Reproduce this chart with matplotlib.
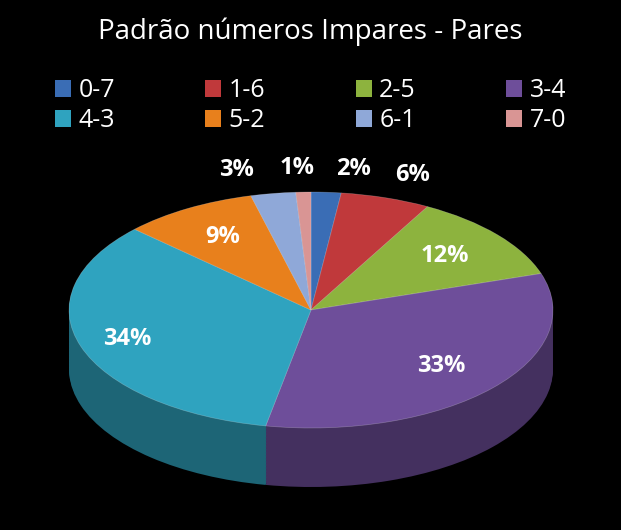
import matplotlib
matplotlib.use("Agg")
import matplotlib.pyplot as plt
import numpy as np
import matplotlib.colors as mc
from matplotlib.patches import Patch

labels = ["0-7", "1-6", "2-5", "3-4", "4-3", "5-2", "6-1", "7-0"]
values = [2, 6, 12, 33, 34, 9, 3, 1]
colors = ["#3A6DB5", "#C0393B", "#8DB33E", "#6E4E9A", "#2FA3BF", "#E8801C", "#8FA8D8", "#D99594"]

W, H = 621, 530
fig = plt.figure(figsize=(W/100, H/100), dpi=100, facecolor="black")
ax = fig.add_axes([0, 0, 1, 1])
ax.set_facecolor("black")
ax.axis("off")
cx, cy, rx, ry = 311, 310, 242, 118
depth = 0.5
dark = [tuple(np.array(mc.to_rgb(c))*0.62) for c in colors]
for d in np.linspace(depth, 0.01, 40):
    ax.pie(values, colors=dark, startangle=90, counterclock=False, radius=1,
           center=(0, -d), wedgeprops=dict(linewidth=0))
wedges, _ = ax.pie(values, colors=colors, startangle=90, counterclock=False, radius=1,
                   center=(0, 0), wedgeprops=dict(linewidth=0.5, edgecolor=(1, 1, 1, 0.25)))
ax.set_xlim(-cx/rx, (W-cx)/rx)
ax.set_ylim(-(H-cy)/ry, cy/ry)
ax.set_aspect("auto")

font = "Open Sans"
dist = [1.2, 1.2, 0.72, 0.72, 0.8, 0.72, 1.2, 1.2]
shift = {1: -0.02, 2: 0.1, 3: -0.12, 6: 0.05}
for w, v, dd in zip(wedges, values, dist):
    a = np.deg2rad((w.theta1 + w.theta2) / 2)
    x, y = dd*np.cos(a) + shift.get(v, 0), dd*np.sin(a)
    ax.text(x, y, f"{v}%", color="white", fontsize=17, fontweight="bold",
            ha="center", va="center", family=font)

fig.text(0.5, 0.94, "Padrão números Impares - Pares", color="white", fontsize=20,
         ha="center", va="center", family=font)
order = [0, 4, 1, 5, 2, 6, 3, 7]
handles = [Patch(facecolor=colors[i], edgecolor="none") for i in order]
fig.legend(handles, [labels[i] for i in order], loc="upper center",
           bbox_to_anchor=(0.5, 0.895), ncol=4,
           frameon=False, labelcolor="white", prop=dict(family=font, size=18),
           handlelength=0.65, handleheight=0.65, columnspacing=3.6, handletextpad=0.3,
           labelspacing=0.2)
fig.savefig("out.png", dpi=100, facecolor="black")
